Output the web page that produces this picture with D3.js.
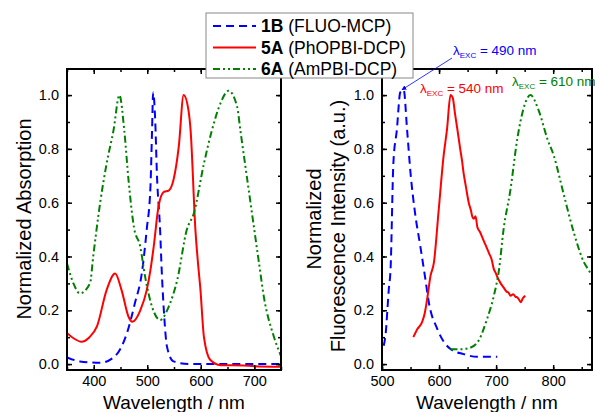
<!DOCTYPE html>
<html>
<head>
<meta charset="utf-8">
<script src="https://cdn.jsdelivr.net/npm/d3@7"></script>
<style>
  body { margin: 0; background: #fff; }
  text { font-family: "Liberation Sans", Arial, sans-serif; }
</style>
</head>
<body>
<svg id="chart" width="595" height="412"></svg>
<script>
// Data
const abs1B = [[350,0.025],[374,0.01],[412,0.005],[440,0.03],[462,0.115],[477,0.227],[490,0.34],[499,0.5],[506,0.66],[509,0.87],[511,1.01],[515,0.9],[518,0.71],[524,0.5],[527,0.35],[531,0.2],[537,0.064],[549,0.01],[580,0.0],[650,0.0],[750,0.0]];
const abs5A = [[350,0.116],[363,0.095],[377,0.083],[392,0.1],[406,0.14],[424,0.275],[440,0.337],[452,0.275],[465,0.176],[472,0.157],[487,0.2],[499,0.275],[506,0.35],[512,0.436],[521,0.585],[531,0.64],[540,0.645],[549,0.684],[559,0.81],[568,1.0],[577,0.944],[581,0.87],[590,0.5],[596,0.35],[599,0.287],[606,0.1],[618,0.015],[637,-0.004],[680,-0.005],[700,-0.008],[750,-0.01]];
const abs6A = [[350,0.374],[362,0.3],[374,0.263],[393,0.3],[399,0.4],[412,0.6],[424,0.745],[437,0.87],[448,1.0],[457,0.87],[465,0.684],[475,0.51],[487,0.436],[496,0.325],[509,0.213],[524,0.164],[540,0.213],[556,0.312],[574,0.5],[587,0.56],[606,0.746],[621,0.87],[637,0.97],[652,1.016],[668,0.957],[674,0.87],[693,0.6],[709,0.374],[718,0.25],[737,0.1],[750,0.03]];

const fl1B = [[503,0.068],[506,0.105],[512,0.28],[515,0.353],[520,0.75],[526,0.87],[532,1.01],[538,1.02],[544,0.87],[550,0.71],[558,0.56],[567,0.44],[576,0.316],[582,0.23],[597,0.13],[620,0.056],[643,0.037],[667,0.027],[702,0.027]];
const fl5A = [[555,0.1],[562,0.13],[570,0.155],[575,0.19],[579,0.24],[585,0.328],[591,0.378],[599,0.564],[608,0.775],[614,0.874],[620,1.0],[624,0.99],[628,0.93],[632,0.874],[635,0.83],[637,0.8],[640,0.76],[643,0.71],[647,0.66],[652,0.6],[656,0.57],[658,0.55],[661,0.54],[664,0.55],[667,0.51],[672,0.49],[676,0.47],[680,0.45],[684,0.43],[688,0.41],[692,0.39],[696,0.353],[699,0.34],[703,0.32],[708,0.3],[713,0.285],[718,0.27],[722,0.265],[725,0.254],[730,0.26],[734,0.25],[737,0.248],[740,0.24],[743,0.23],[747,0.245],[751,0.254]];
const fl6A = [[620,0.055],[635,0.055],[650,0.058],[667,0.08],[684,0.167],[696,0.254],[705,0.35],[713,0.5],[725,0.647],[737,0.836],[748,0.95],[760,1.0],[775,0.94],[790,0.836],[801,0.775],[819,0.626],[836,0.49],[854,0.378],[862,0.35],[868,0.33]];

const series = ["1B", "5A", "6A"];
const seriesNames = ["(FLUO-MCP)", "(PhOPBI-DCP)", "(AmPBI-DCP)"];
const colors = ["#0000ff", "#ff0000", "#008000"];
const dashes = ["8,5", null, "7,3,2,3,2,3"];

const absXTicks = [400, 500, 600, 700];
const flXTicks = [500, 600, 700, 800];
const yTicks = [0, 0.2, 0.4, 0.6, 0.8, 1.0];

const excLabels = ["490 nm", "540 nm", "610 nm"];

const svg = d3.select("#chart");

function panel(opt) {
    const x = d3.scaleLinear().domain(opt.xDomain).range([opt.left, opt.right]);
    const y = d3.scaleLinear().domain([-0.022, 1.097]).range([370, 69]);
    const g = svg.append("g");

    const clipId = "clip" + opt.left;
    g.append("clipPath").attr("id", clipId)
        .append("rect")
        .attr("x", opt.left).attr("y", 69)
        .attr("width", opt.right - opt.left).attr("height", 301);

    const line = d3.line()
        .x(d => x(d[0]))
        .y(d => y(d[1]))
        .curve(d3.curveMonotoneX);

    opt.data.forEach((d, i) => {
        g.append("path")
            .attr("clip-path", `url(#${clipId})`)
            .attr("d", line(d))
            .attr("fill", "none")
            .attr("stroke", colors[i])
            .attr("stroke-width", 2)
            .attr("stroke-dasharray", dashes[i]);
    });

    const xMinor = d3.range(opt.xDomain[0], opt.xDomain[1] + 1, 50);
    const yMinor = d3.range(0, 1.01, 0.1);

    // axes: ticks inward on all four sides
    g.append("g").attr("transform", `translate(0,370)`)
        .call(d3.axisBottom(x).tickValues(opt.xTicks).tickSize(-5).tickPadding(6).tickFormat(d3.format("d")));
    g.append("g").attr("transform", `translate(0,370)`)
        .call(d3.axisBottom(x).tickValues(xMinor).tickSize(-3).tickFormat(""));
    g.append("g").attr("transform", `translate(0,69)`)
        .call(d3.axisTop(x).tickValues(opt.xTicks).tickSize(-5).tickFormat(""));
    g.append("g").attr("transform", `translate(0,69)`)
        .call(d3.axisTop(x).tickValues(xMinor).tickSize(-3).tickFormat(""));

    g.append("g").attr("transform", `translate(${opt.left},0)`)
        .call(d3.axisLeft(y).tickValues(yTicks).tickSize(-5).tickPadding(8).tickFormat(d3.format(".1f")));
    g.append("g").attr("transform", `translate(${opt.left},0)`)
        .call(d3.axisLeft(y).tickValues(yMinor).tickSize(-3).tickFormat(""));
    g.append("g").attr("transform", `translate(${opt.right},0)`)
        .call(d3.axisRight(y).tickValues(yTicks).tickSize(-5).tickFormat(""));
    g.append("g").attr("transform", `translate(${opt.right},0)`)
        .call(d3.axisRight(y).tickValues(yMinor).tickSize(-3).tickFormat(""));

    g.selectAll(".domain").remove();
    g.selectAll(".tick line").attr("stroke", "#000").attr("stroke-width", 1.5);
    g.selectAll(".tick text").attr("font-size", 14.5).attr("fill", "#000")
        .style("font-family", "Liberation Sans, Arial, sans-serif");

    g.append("rect")
        .attr("x", opt.left).attr("y", 69)
        .attr("width", opt.right - opt.left).attr("height", 301)
        .attr("fill", "none").attr("stroke", "#000").attr("stroke-width", 2);

    g.append("text")
        .attr("x", (opt.left + opt.right) / 2).attr("y", 409)
        .attr("text-anchor", "middle").attr("font-size", 19)
        .text("Wavelength / nm");

    return { x, y, g };
}

const left = panel({ xDomain: [350, 750], left: 67, right: 281, xTicks: absXTicks, data: [abs1B, abs5A, abs6A] });
const right = panel({ xDomain: [500, 868], left: 382, right: 592, xTicks: flXTicks, data: [fl1B, fl5A, fl6A] });

// y axis titles
svg.append("text")
    .attr("transform", "translate(31,219) rotate(-90)")
    .attr("text-anchor", "middle").attr("font-size", 20)
    .text("Normalized Absorption");
svg.append("text")
    .attr("transform", "translate(321,219) rotate(-90)")
    .attr("text-anchor", "middle").attr("font-size", 20)
    .text("Normalized");
svg.append("text")
    .attr("transform", "translate(345,226) rotate(-90)")
    .attr("text-anchor", "middle").attr("font-size", 20)
    .text("Fluorescence Intensity (a.u.)");

// excitation labels
const excPos = [[453, 55], [420, 93], [512, 86]];
excLabels.forEach((lab, i) => {
    const t = svg.append("text")
        .attr("x", excPos[i][0]).attr("y", excPos[i][1])
        .attr("font-size", 13.5).attr("fill", colors[i]);
    t.append("tspan").text("λ");
    t.append("tspan").attr("font-size", 8).attr("dy", 3).text("EXC");
    t.append("tspan").attr("dy", -3).text(" = " + lab);
});

// arrow for the 490 nm label
svg.append("defs").append("marker")
    .attr("id", "arr").attr("viewBox", "0 0 10 10")
    .attr("refX", 9).attr("refY", 5)
    .attr("markerWidth", 6).attr("markerHeight", 6)
    .attr("orient", "auto")
    .append("path").attr("d", "M0,0 L10,5 L0,10 z").attr("fill", "#0000ff");
svg.append("line")
    .attr("x1", 452).attr("y1", 58)
    .attr("x2", right.x(535)).attr("y2", right.y(1.02))
    .attr("stroke", "#0000ff").attr("stroke-width", 0.8)
    .attr("marker-end", "url(#arr)");

// legend
const lg = svg.append("g");
lg.append("rect")
    .attr("x", 206).attr("y", 13).attr("width", 207).attr("height", 65)
    .attr("fill", "#fff").attr("stroke", "#888").attr("stroke-width", 1);
series.forEach((s, i) => {
    const yy = 26 + i * 21.5;
    lg.append("line")
        .attr("x1", 213).attr("x2", 256).attr("y1", yy).attr("y2", yy)
        .attr("stroke", colors[i]).attr("stroke-width", 2)
        .attr("stroke-dasharray", dashes[i]);
    const t = lg.append("text")
        .attr("x", 261).attr("y", yy + 6).attr("font-size", 17.5);
    t.append("tspan").attr("font-weight", "bold").text(s);
    t.append("tspan").text(" " + seriesNames[i]);
});
</script>
</body>
</html>
